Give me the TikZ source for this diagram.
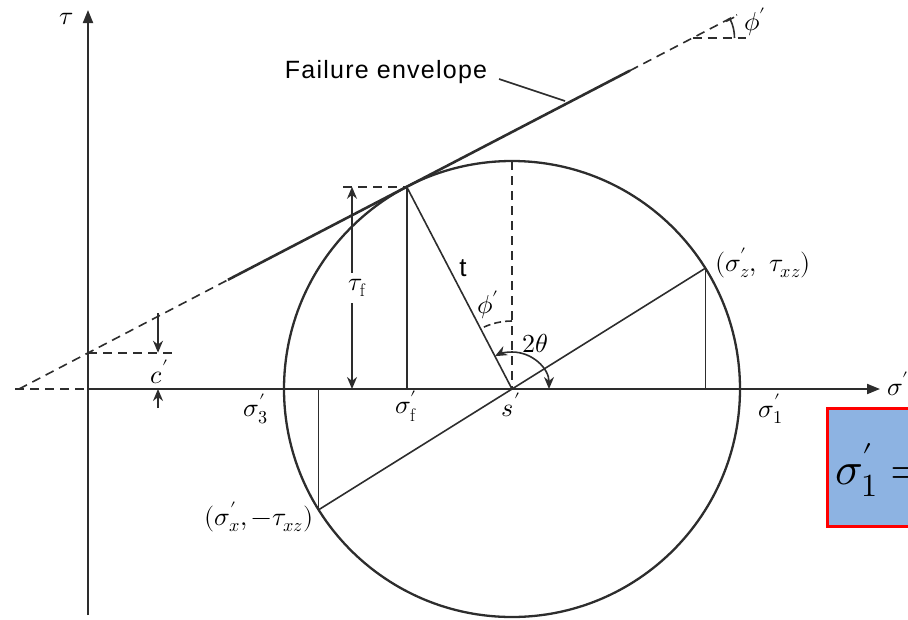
\documentclass[tikz,border=0pt]{standalone}
\usepackage{fontspec}
\usepackage{unicode-math}
\setmathfont{Latin Modern Math}
\newfontfamily\labfont{Liberation Sans}
\newfontfamily\envfont[LetterSpace=5]{Liberation Sans}
\usetikzlibrary{arrows.meta,calc}
\definecolor{boxblue}{RGB}{141,179,226}
\definecolor{ink}{RGB}{45,45,45}
\begin{document}
\begin{tikzpicture}[x=1pt,y=-1pt,
  axis/.style={draw=ink, line width=2pt},
  thin/.style={draw=ink, line width=1.6pt},
  env/.style={draw=ink, line width=2.6pt},
  dsh/.style={draw=ink, line width=1.6pt, dash pattern=on 9pt off 6pt},
  circ/.style={draw=ink, line width=2.3pt},
  lab/.style={inner sep=1pt, font=\fontsize{26}{31}\selectfont},
  tip/.style={-{Stealth[length=12pt,width=10pt]}},
  dtip/.style={{Stealth[length=12pt,width=10pt]}-{Stealth[length=12pt,width=10pt]}}]
\useasboundingbox (0,0) rectangle (908,619);
% key coordinates
\coordinate (O) at (88,389);
\coordinate (C) at (512,389);
\coordinate (T) at (406.7,186.8);
\coordinate (Z) at (705.4,268.2);
\coordinate (X) at (318.6,509.8);
\coordinate (E0) at (19,389);
\coordinate (E1) at (228,279.8);
\coordinate (E2) at (630,70.6);
\coordinate (E3) at (737,14.8);
\coordinate (A) at (692.5,38);
\coordinate (Cc) at (88,352.7);
% axes
\draw[axis,-{Triangle[length=13pt,width=10pt]}] (88,615) -- (88,10);
\draw[axis,-{Triangle[length=13pt,width=10pt]}] (O) -- (880,389);
\draw[dsh] (15,389) -- (O);
\node[lab] (tau) at (67,19) {$\tau$};
\node[lab] (sig) at (898,384) {$\sigma'$};
% envelope
\draw[dsh] (E0) -- (E1);
\draw[env] (E1) -- (E2);
\draw[dsh] (E2) -- (E3);
\draw[dsh] (A) -- (746,38);
\draw[thin,{Bar[width=9pt]}-] ($(A)+(-27.5:42)$) arc[start angle=-27.5,end angle=0,radius=42];
\node[lab] (phitop) at (755,22) {$\phi'$};
\node[inner sep=1pt, font=\envfont\fontsize{25}{30}\selectfont] (fe) at (386,72) {Failure envelope};
\draw[thin] (499,79) -- (565,101);
% c'
\draw[dsh] (Cc) -- (176,352.7);
\draw[thin,tip] (158,313) -- (158,352.7);
\draw[thin,tip] (158,408) -- (158,389);
\node[lab] (cp) at (160,372) {$c'$};
% Mohr circle
\draw[circ] (C) circle[radius=228];
\draw[dsh] (343,186.8) -- (T);
\draw[thin] (T) -- (406.7,389);
\draw[thin] (T) -- (C);
\draw[dsh] (512,161) -- (C);
\draw[thin] (Z) -- (X);
\draw[thin] (Z) -- (705.4,389);
\draw[thin] (X) -- (318.6,389);
% tau_f
\draw[thin,dtip] (352,186.8) -- (352,389);
\node[lab, fill=white, inner ysep=6pt] (tf) at (357,288) {$\tau_{\mathrm{f}}$};
% angles
\draw[thin, dash pattern=on 7pt off 4pt] ($(C)+(-90:68)$) arc[start angle=-90,end angle=-117.5,radius=68];
\draw[thin,dtip] ($(C)+(0:37)$) arc[start angle=0,end angle=-117.5,radius=37];
\node[lab] (phi) at (488,305) {$\phi'$};
\node[lab] (tt) at (463,268) {\labfont t};
\node[lab] (th) at (535,343) {$2\theta$};
% axis labels
\node[lab] (s3) at (256,409) {$\sigma'_3$};
\node[lab] (sf) at (406,406) {$\sigma'_{\mathrm{f}}$};
\node[lab] (sp) at (511,405) {$s'$};
\node[lab] (s1) at (771,409) {$\sigma'_1$};
\node[lab] (zl) at (763,263) {$(\sigma'_z,\ \tau_{xz})$};
\node[lab] (xl) at (259,517) {$(\sigma'_x, -\tau_{xz})$};
% box
\draw[draw=red, line width=3pt, fill=boxblue] (827.5,408.5) rectangle (930,526.5);
\node[anchor=west, inner sep=0pt, font=\fontsize{46}{54}\selectfont] (eq) at (835,470) {$\sigma_1' =$};
\end{tikzpicture}
\end{document}
